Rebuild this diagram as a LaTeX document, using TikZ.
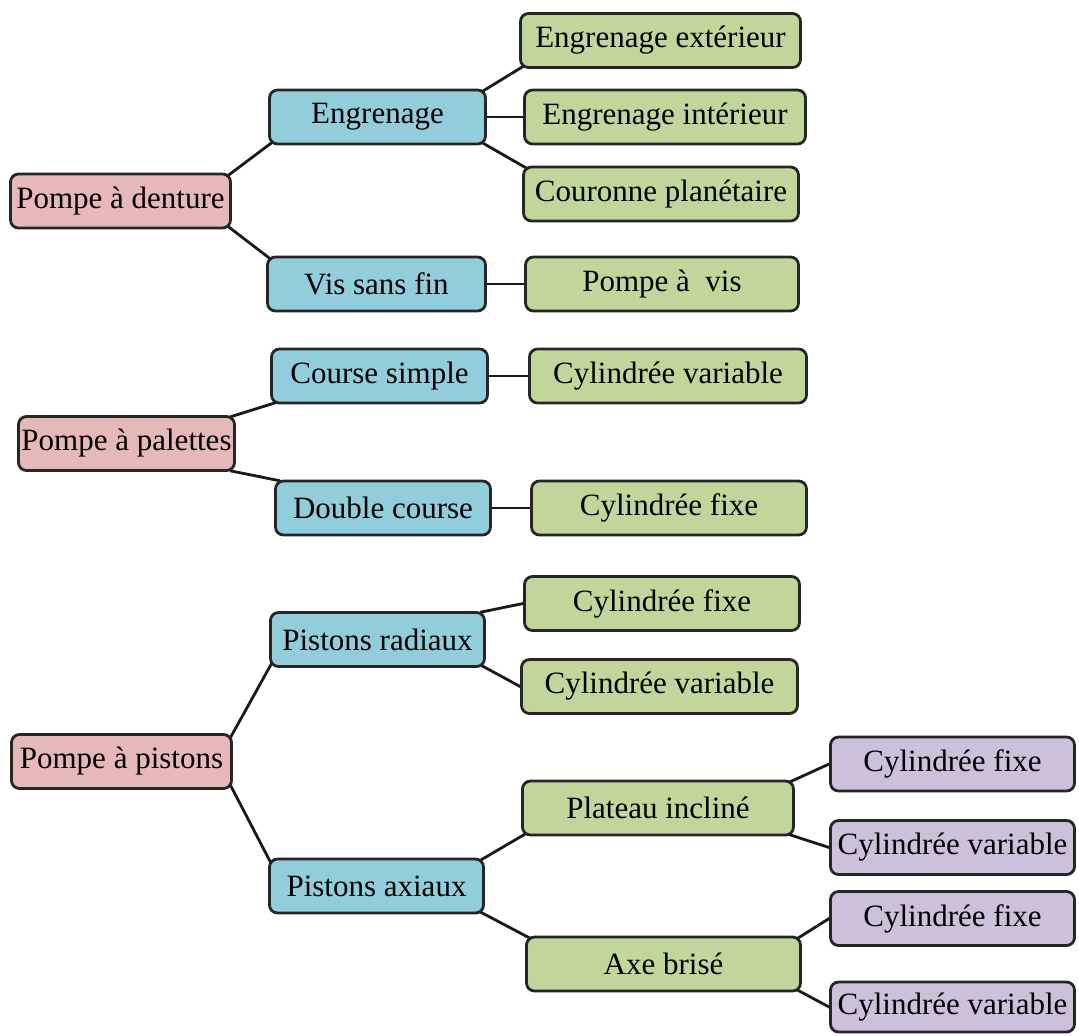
\documentclass[tikz,border=0pt]{standalone}
\usepackage{fontspec}
\setmainfont{Liberation Serif}
\usetikzlibrary{positioning, backgrounds}

\definecolor{pompeRed}{RGB}{230,184,183}
\definecolor{familleBlue}{RGB}{146,205,220}
\definecolor{varianteGreen}{RGB}{194,214,155}
\definecolor{cylPurple}{RGB}{204,192,218}

\tikzset{
  box/.style={draw=black!85, rounded corners=4pt, line width=1.4pt, inner sep=0pt,
    minimum height=27pt, font=\fontsize{15.5}{18}\selectfont},
  pompe/.style={box, fill=pompeRed},
  famille/.style={box, fill=familleBlue},
  variante/.style={box, fill=varianteGreen},
  cyl/.style={box, fill=cylPurple},
  link/.style={line width=1.4pt, black!90, shorten <=-3pt, shorten >=-3pt}
}

\begin{document}
\begin{tikzpicture}[x=0.5pt, y=-0.5pt]
        \useasboundingbox (0,0) rectangle (1079,1035);

        \node[pompe, minimum width=110pt] (den) at (120.5,201) {Pompe à denture};
        \node[pompe, minimum width=108pt] (pal) at (126.5,443.5) {Pompe à palettes};
        \node[pompe, minimum width=110pt] (pis) at (121.5,761.5) {Pompe à pistons};

        \node[famille, minimum width=108pt] (eng) at (377.5,117) {Engrenage};
        \node[famille, minimum width=109pt] (vis) at (376.5,284) {Vis sans fin};
        \node[famille, minimum width=108pt] (cs) at (379.5,376) {Course simple};
        \node[famille, minimum width=107.5pt] (dc) at (383,508) {Double course};
        \node[famille, minimum width=107pt] (rad) at (377.5,639.5) {Pistons radiaux};
        \node[famille, minimum width=107pt] (axi) at (376.5,886) {Pistons axiaux};

        \node[variante, minimum width=140pt] (ext) at (660.5,40.5) {Engrenage extérieur};
        \node[variante, minimum width=140.5pt] (int) at (665,117) {Engrenage intérieur};
        \node[variante, minimum width=137.5pt] (cou) at (661,194) {Couronne planétaire};
        \node[variante, minimum width=136.5pt] (pav) at (662,284) {Pompe à~ vis};
        \node[variante, minimum width=138.5pt] (cv1) at (668,376) {Cylindrée variable};
        \node[variante, minimum width=137.5pt] (cf1) at (669,508) {Cylindrée fixe};
        \node[variante, minimum width=137.5pt] (cf2) at (662,603.5) {Cylindrée fixe};
        \node[variante, minimum width=138pt] (cv2) at (659.5,686.5) {Cylindrée variable};
        \node[variante, minimum width=135.5pt] (pla) at (658,808) {Plateau incliné};
        \node[variante, minimum width=137pt] (axe) at (663.5,964) {Axe brisé};

        \node[cyl, minimum width=122pt] (pf1) at (952.5,764) {Cylindrée fixe};
        \node[cyl, minimum width=122pt] (pv1) at (952.5,847.5) {Cylindrée variable};
        \node[cyl, minimum width=122pt] (pf2) at (952.5,918.5) {Cylindrée fixe};
        \node[cyl, minimum width=122pt, minimum height=25pt] (pv2) at (952.5,1007) {Cylindrée variable};

        \begin{scope}[on background layer]
        \draw[link] (den.north east) -- (eng.south west);
        \draw[link] (den.south east) -- (vis.north west);
        \draw[link] (eng.north east) -- (ext.south west);
        \draw[link] (eng.east) -- (int.west);
        \draw[link] (eng.south east) -- (cou.north west);
        \draw[link] (vis.east) -- (pav.west);

        \draw[link] (pal.north east) -- (cs.south west);
        \draw[link] (pal.south east) -- (dc.north west);
        \draw[link] (cs.east) -- (cv1.west);
        \draw[link] (dc.east) -- (cf1.west);

        \draw[link] (pis.north east) -- (rad.south west);
        \draw[link] (pis.south east) -- (axi.north west);
        \draw[link] (rad.north east) -- (cf2.west);
        \draw[link] (rad.south east) -- (cv2.west);
        \draw[link] (axi.north east) -- (pla.south west);
        \draw[link] (axi.south east) -- (axe.north west);
        \draw[link] (pla.north east) -- (pf1.west);
        \draw[link] (pla.south east) -- (pv1.west);
        \draw[link] (axe.north east) -- (pf2.west);
        \draw[link] (axe.south east) -- (pv2.west);
        \end{scope}
    \end{tikzpicture}
\end{document}
